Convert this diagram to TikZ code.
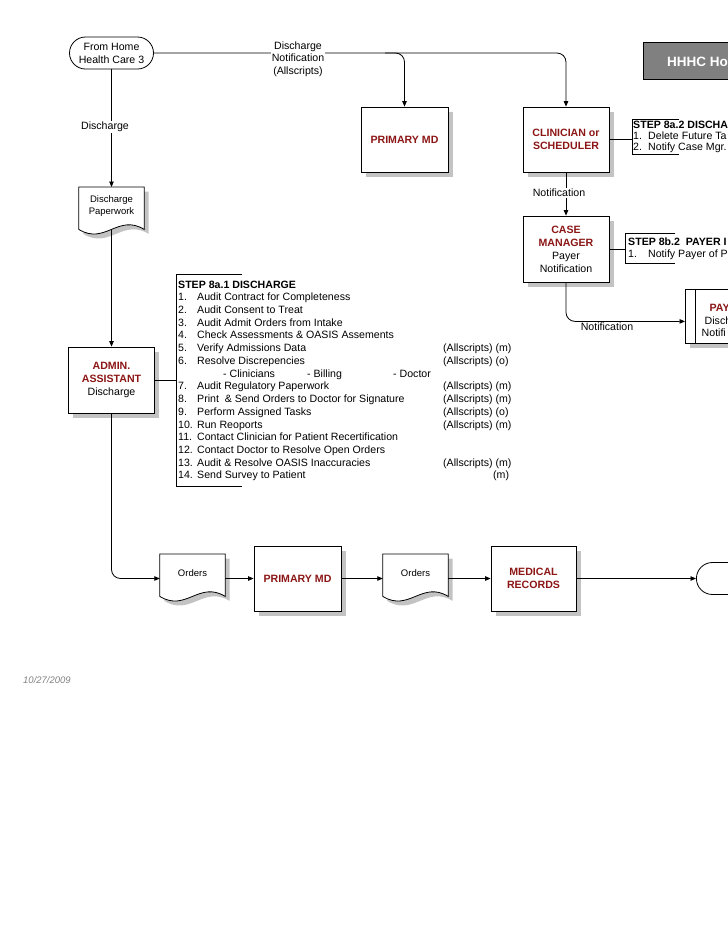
\documentclass[tikz,border=0pt]{standalone}
\usepackage{fontspec}
\setmainfont{Liberation Sans}
\usetikzlibrary{arrows.meta,shapes.misc,shadows,backgrounds,calc}
\definecolor{dred}{RGB}{140,22,22}
\definecolor{shd}{RGB}{195,195,195}
\definecolor{ttlgray}{RGB}{128,128,128}
\newcommand\rb[1]{\textcolor{dred}{\textbf{#1}}}
\newcommand\nm[2][19pt]{\makebox[#1][l]{#2}}
\newcommand\docshape[1]{%
\begin{scope}[on background layer]
\fill[shd] ([shift={(4.5,4.5)}]#1.north west) -- ([shift={(4.5,4.5)}]#1.north east) -- ([shift={(4.5,8.5)}]#1.south east)
  .. controls ($(#1.south west)!0.6!(#1.south east)+(4.5,8.5-16)$) and ($(#1.south west)!0.4!(#1.south east)+(4.5,8.5+16)$) .. ([shift={(4.5,8.5)}]#1.south west) -- cycle;
\filldraw[fill=white, line width=0.8pt] (#1.north west) -- (#1.north east) -- ([yshift=-4pt]#1.south east)
  .. controls ($(#1.south west)!0.6!(#1.south east)+(0,4-16)$) and ($(#1.south west)!0.4!(#1.south east)+(0,4+16)$) .. ([yshift=-4pt]#1.south west) -- cycle;
\end{scope}}
\tikzset{
 box/.style={draw, line width=0.8pt, fill=white, align=center, inner sep=1pt,
   drop shadow={shadow xshift=4.5pt, shadow yshift=-4.5pt, fill=shd, opacity=1}},
 term/.style={draw, line width=0.8pt, fill=white, rounded rectangle, align=center, minimum height=32pt, inner sep=1pt},
 docnode/.style={minimum width=65pt, minimum height=38pt, inner sep=0pt, align=center, anchor=north, font=\fontsize{9.5}{12}\selectfont},
 brk/.style={inner sep=0pt, anchor=north west},
 arr/.style={line width=0.8pt, -{Triangle[length=5.5pt,width=4.5pt]}},
 ln/.style={line width=0.8pt},
 lbl/.style={fill=white, inner sep=1pt, align=center},
 txt/.style={inner sep=0pt, anchor=base west},
}
\begin{document}
\begin{tikzpicture}[x=1pt,y=-1pt, font=\fontsize{10.6}{13}\selectfont]
\useasboundingbox (0,0) rectangle (728,943);
\clip (0,0) rectangle (728,943);

% nodes
\node[term, minimum width=86pt] (fh) at (111.5,53) {From Home\\Health Care 3};
\node[box, minimum width=87pt, minimum height=65pt] (pmd) at (404.5,139.5) {\rb{PRIMARY MD}};
\node[box, minimum width=86pt, minimum height=65pt] (clin) at (566,139.5) {\rb{CLINICIAN or}\\\rb{SCHEDULER}};
\node[box, minimum width=86pt, minimum height=66pt] (cm) at (566,249) {\rb{CASE}\\\rb{MANAGER}\\Payer\\Notification};
\node[box, minimum width=86pt, minimum height=66pt] (admin) at (111.5,380) {\rb{ADMIN.}\\\rb{ASSISTANT}\\Discharge};
\node[docnode] (dp) at (111.5,187) {Discharge\\Paperwork};
\node[docnode] (d1) at (192.5,554) {Orders};
\node[box, minimum width=87pt, minimum height=65pt] (pmd2) at (297.5,578.5) {\rb{PRIMARY MD}};
\node[docnode] (d2) at (415.5,554) {Orders};
\node[box, minimum width=85pt, minimum height=65pt] (mr) at (533.5,578.5) {\rb{MEDICAL}\\\rb{RECORDS}};
\node[term, minimum width=80pt, anchor=west] (t2) at (696,578.5) {};
\docshape{dp}
\docshape{d1}
\docshape{d2}

% title
\node[draw, line width=0.8pt, fill=ttlgray, minimum width=100pt, minimum height=37pt, anchor=west] (ttl) at (643,60.5) {};
\node[txt, font=\fontsize{13.5}{16}\selectfont\bfseries, text=white] (ttlt) at (667,66.8) {HHHC Ho};

% payer
\node[box, minimum width=90pt, minimum height=54pt, anchor=north west] (payer) at (685,289) {};
\draw[ln] ([xshift=10pt]payer.north west) -- ([xshift=10pt]payer.south west);
\node[txt] (pay1) at (709.5,311.5) {\rb{PAY}};
\node[txt] (pay2) at (704.5,324) {Disch};
\node[txt] (pay3) at (701.5,336) {Notifi};

% brackets
\node[brk, minimum width=66pt, minimum height=211.5pt] (b1) at (176,274) {};
\draw[ln] (b1.north east) -- (b1.north west) -- (b1.south west) -- (b1.south east);
\node[brk, minimum width=47pt, minimum height=35pt] (b2) at (632,119) {};
\draw[ln] (b2.north east) -- (b2.north west) -- (b2.south west) -- (b2.south east);
\node[brk, minimum width=50pt, minimum height=30pt] (b3) at (625,233) {};
\draw[ln] (b3.north east) -- (b3.north west) -- (b3.south west) -- (b3.south east);

\node[txt, font=\fontsize{10.6}{12.73}\selectfont] (s1) at (178,288) {\begin{tabular}[t]{@{}l@{}}
\textbf{STEP 8a.1 DISCHARGE}\\
\nm{1.}Audit Contract for Completeness\\
\nm{2.}Audit Consent to Treat\\
\nm{3.}Audit Admit Orders from Intake\\
\nm{4.}Check Assessments \& OASIS Assements\\
\nm{5.}\makebox[246pt][l]{Verify Admissions Data}(Allscripts) (m)\\
\nm{6.}\makebox[246pt][l]{Resolve Discrepencies}(Allscripts) (o)\\
\hspace*{45pt}\makebox[84pt][l]{- Clinicians}\makebox[86pt][l]{- Billing}- Doctor\\
\nm{7.}\makebox[246pt][l]{Audit Regulatory Paperwork}(Allscripts) (m)\\
\nm{8.}\makebox[246pt][l]{Print\ \ \& Send Orders to Doctor for Signature}(Allscripts) (m)\\
\nm{9.}\makebox[246pt][l]{Perform Assigned Tasks}(Allscripts) (o)\\
\nm{10.}\makebox[246pt][l]{Run Reoports}(Allscripts) (m)\\
\nm{11.}Contact Clinician for Patient Recertification\\
\nm{12.}Contact Doctor to Resolve Open Orders\\
\nm{13.}\makebox[246pt][l]{Audit \& Resolve OASIS Inaccuracies}(Allscripts) (m)\\
\nm{14.}\makebox[246pt][l]{Send Survey to Patient}\hspace*{50pt}(m)
\end{tabular}};
\node[txt, font=\fontsize{10.6}{10.6}\selectfont] (s2) at (633,128.5) {\begin{tabular}[t]{@{}l@{}}
\textbf{STEP 8a.2 DISCHA}\\
\nm[15pt]{1.}Delete Future Ta\\
\nm[15pt]{2.}Notify Case Mgr.
\end{tabular}};
\node[txt, font=\fontsize{10.6}{11.5}\selectfont] (s3) at (628,245.8) {\begin{tabular}[t]{@{}l@{}}
\textbf{STEP 8b.2\ \ PAYER I}\\
\nm[20pt]{1.}Notify Payer of P
\end{tabular}};

% connectors
\coordinate (jn) at (385,53);
\draw[arr, rounded corners=9pt] (fh.east) -| (clin.north);
\draw[arr, rounded corners=9pt] (jn) -| (pmd.north);
\draw[arr] (fh.south) -- (dp.north);
\draw[arr] ([yshift=-4pt]dp.south) -- (admin.north);
\draw[ln] (admin.east) -- (admin.east -| b1.west);
\draw[arr, rounded corners=9pt] (admin.south) |- (d1.west |- pmd2.west);
\draw[arr] (d1.east |- pmd2.west) -- (pmd2.west);
\draw[arr] (pmd2.east) -- (d2.west |- pmd2.east);
\draw[arr] (d2.east |- mr.west) -- (mr.west);
\draw[arr] (mr.east) -- (t2.west);
\draw[ln] (clin.east) -- (clin.east -| b2.west);
\draw[arr] (clin.south) -- (cm.north);
\draw[ln] (cm.east) -- (cm.east -| b3.west);
\draw[arr, rounded corners=9pt] (cm.south) |- ([yshift=-5pt]payer.west);

% labels
\node[lbl, font=\fontsize{10.6}{12.7}\selectfont] (l1) at (298,59) {Discharge\\Notification\\(Allscripts)};
\node[lbl] (l2) at (105,127) {Discharge};
\node[lbl] (l3) at (559,193) {Notification};
\node[lbl] (l4) at (607,327) {Notification};
\node[txt, font=\fontsize{9.5}{11}\selectfont\itshape, text=black!50] (date) at (23,683.5) {10/27/2009};
\end{tikzpicture}
\end{document}
